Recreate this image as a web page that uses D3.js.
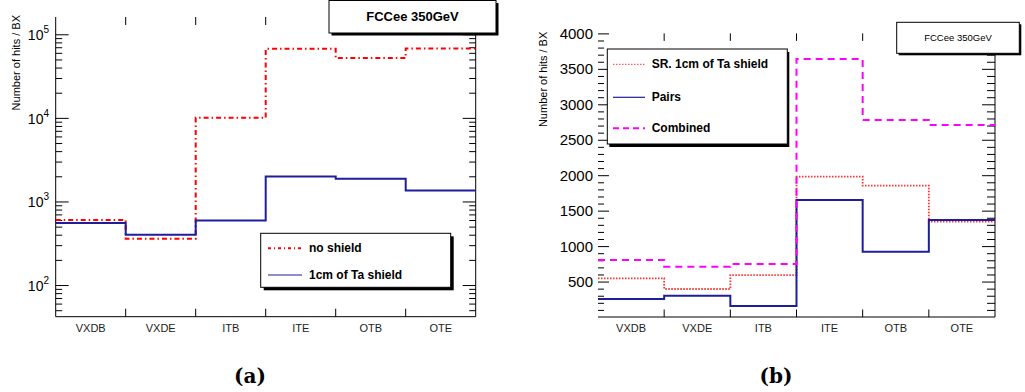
<!DOCTYPE html>
<html><head><meta charset="utf-8">
<script src="https://cdn.jsdelivr.net/npm/d3@7"></script>
<style>
body{margin:0;background:#fff;}
svg{display:block;font-family:"Liberation Sans",Arial,sans-serif;}
</style></head>
<body><svg id="c" width="1025" height="392"></svg>
<script>
// ---- data ----
const categories = ["VXDB","VXDE","ITB","ITE","OTB","OTE"];
// panel (a)
const noShield = [600, 358, 10000, 67000, 52000, 67500];
const taShield = [552, 400, 593, 1990, 1870, 1350];
const logTicksA = [100, 1000, 10000, 100000];
const legendA = ["no shield", "1cm of Ta shield"];
// panel (b)
const srTa = [546, 395, 592, 1979, 1852, 1344];
const pairs = [254, 300, 155, 1650, 921, 1368];
const combined = [804, 710, 748, 3639, 2779, 2708];
const linTicksB = [500, 1000, 1500, 2000, 2500, 3000, 3500, 4000];
const legendB = ["SR. 1cm of Ta shield", "Pairs", "Combined"];
const boxText = "FCCee 350GeV";
const yTitle = "Number of hits / BX";

const svg = d3.select("#c");

function stepPoints(x, vals){
  const pts = [];
  categories.forEach((c,i)=>{
    pts.push([x(c), vals[i]]);
    pts.push([x(c)+x.bandwidth(), vals[i]]);
  });
  return pts;
}
function drawStep(g, x, y, vals, style){
  const line = d3.line().x(d=>d[0]).y(d=>y(d[1]));
  g.append("path").attr("d", line(stepPoints(x, vals)))
    .attr("fill","none").attr("stroke",style.color)
    .attr("stroke-width",style.width)
    .attr("stroke-dasharray",style.dash||null);
}
function frameTicks(g, x, yTop, yBot, len){
  categories.slice(1).forEach(c=>{
    const xx = x(c);
    g.append("line").attr("x1",xx).attr("x2",xx).attr("y1",yBot).attr("y2",yBot-len)
      .attr("stroke","#000").attr("stroke-width",1);
    g.append("line").attr("x1",xx).attr("x2",xx).attr("y1",yTop).attr("y2",yTop+len)
      .attr("stroke","#000").attr("stroke-width",1);
  });
}
function textBox(g, x0, y0, w, h, sh, txt, fs, fw){
  g.append("rect").attr("x",x0+sh).attr("y",y0+sh).attr("width",w).attr("height",h).attr("fill","#000");
  g.append("rect").attr("x",x0).attr("y",y0).attr("width",w).attr("height",h)
    .attr("fill","#fff").attr("stroke","#000").attr("stroke-width",1);
  g.append("text").attr("x",x0+w/2).attr("y",y0+h/2).attr("text-anchor","middle")
    .attr("dominant-baseline","central").attr("font-size",fs).attr("font-weight",fw).text(txt);
}

// ================= Panel (a) =================
(function(){
  const L=55.7, R=475.7, T=17, B=316.7;
  const g = svg.append("g");
  const x = d3.scaleBand().domain(categories).range([L,R]).padding(0);
  const y = d3.scaleLog().domain([41.8, 161000]).range([B,T]);

  // axes lines
  g.append("line").attr("x1",L).attr("x2",L).attr("y1",T).attr("y2",B).attr("stroke","#000");
  g.append("line").attr("x1",R).attr("x2",R).attr("y1",T).attr("y2",B).attr("stroke","#000");
  g.append("line").attr("x1",L).attr("x2",R).attr("y1",B).attr("y2",B).attr("stroke","#000");

  // log ticks (major + minor) on left and right
  const minor = [];
  [10,100,1000,10000,100000].forEach(d=>{for(let k=2;k<=9;k++){const v=d*k; if(v>=41.8&&v<=161000) minor.push(v);}});
  const left = d3.axisRight(y).tickValues(logTicksA).tickSize(13).tickFormat("");
  const leftMin = d3.axisRight(y).tickValues(minor).tickSize(6.5).tickFormat("");
  const right = d3.axisLeft(y).tickValues(logTicksA).tickSize(13).tickFormat("");
  const rightMin = d3.axisLeft(y).tickValues(minor).tickSize(6.5).tickFormat("");
  [[left,L],[leftMin,L],[right,R],[rightMin,R]].forEach(([ax,xx])=>{
    const a = g.append("g").attr("transform",`translate(${xx},0)`).call(ax);
    a.select(".domain").remove();
    a.selectAll("line").attr("stroke","#000");
  });
  // tick labels 10^n
  logTicksA.forEach(v=>{
    const t = g.append("text").attr("x",49).attr("y",y(v)+6).attr("text-anchor","end").attr("font-size",14);
    t.append("tspan").text("10");
    t.append("tspan").attr("font-size",10).attr("dy",-7).text(String(Math.round(Math.log10(v))));
  });
  frameTicks(g, x, T, B, 8);

  // x labels
  categories.forEach(c=>{
    g.append("text").attr("x",x(c)+x.bandwidth()/2).attr("y",328).attr("text-anchor","middle")
      .attr("dominant-baseline","central").attr("font-size",11).attr("fill","#222").text(c);
  });
  // y title
  g.append("text").attr("transform","translate(15.7,15) rotate(-90)").attr("text-anchor","end")
    .attr("dominant-baseline","central").attr("font-size",11).text(yTitle);

  drawStep(g, x, y, noShield, {color:"#ff0000", width:2, dash:"5,3,1.5,3"});
  drawStep(g, x, y, taShield, {color:"#1e1e9c", width:2});

  // legend
  const lx=260.7, ly=233.3, lw=190, lh=54;
  g.append("rect").attr("x",lx+3).attr("y",ly+3).attr("width",lw).attr("height",lh).attr("fill","#000");
  g.append("rect").attr("x",lx).attr("y",ly).attr("width",lw).attr("height",lh).attr("fill","#fff").attr("stroke","#000");
  const ls = [{color:"#ff0000",width:2,dash:"3,3,1,3"},{color:"#1e1e9c",width:1.2}];
  const lys = [248.3, 275];
  legendA.forEach((t,i)=>{
    g.append("line").attr("x1",268).attr("x2",302).attr("y1",lys[i]).attr("y2",lys[i])
      .attr("stroke",ls[i].color).attr("stroke-width",ls[i].width).attr("stroke-dasharray",ls[i].dash||null);
    g.append("text").attr("x",309).attr("y",lys[i]).attr("dominant-baseline","central")
      .attr("font-size",12).attr("font-weight","bold").text(t);
  });
  textBox(g, 329, 0.5, 167, 32.5, 2.5, boxText, 13, "bold");

  svg.append("text").attr("x",250).attr("y",383).attr("text-anchor","middle")
    .attr("font-family","'DejaVu Serif',serif").attr("font-weight","bold").attr("font-size",20).text("(a)");
})();

// ================= Panel (b) =================
(function(){
  const L=598, R=995, T=33.4, B=317;
  const g = svg.append("g");
  const x = d3.scaleBand().domain(categories).range([L,R]).padding(0);
  const y = d3.scaleLinear().domain([0, 4000]).range([B,T]);

  g.append("line").attr("x1",R).attr("x2",R).attr("y1",T).attr("y2",B).attr("stroke","#000");
  g.append("line").attr("x1",L).attr("x2",R).attr("y1",B).attr("y2",B).attr("stroke","#000");

  const minor = d3.range(100, 4000, 100).filter(v=>v%500!==0);
  const axes = [
    [d3.axisRight(y).tickValues(linTicksB).tickSize(11), L],
    [d3.axisRight(y).tickValues(minor).tickSize(6), L],
    [d3.axisLeft(y).tickValues(linTicksB).tickSize(13), R],
    [d3.axisLeft(y).tickValues(minor).tickSize(8), R]
  ];
  axes.forEach(([ax,xx])=>{
    const a = g.append("g").attr("transform",`translate(${xx},0)`).call(ax.tickFormat(""));
    a.select(".domain").remove();
    a.selectAll("line").attr("stroke","#000");
  });
  linTicksB.forEach(v=>{
    g.append("text").attr("x",593).attr("y",y(v)).attr("text-anchor","end")
      .attr("dominant-baseline","central").attr("font-size",15).text(v);
  });
  frameTicks(g, x, T, B, 7.5);

  categories.forEach(c=>{
    g.append("text").attr("x",x(c)+x.bandwidth()/2).attr("y",327.5).attr("text-anchor","middle")
      .attr("dominant-baseline","central").attr("font-size",11).attr("fill","#222").text(c);
  });
  g.append("text").attr("transform","translate(543.3,31.7) rotate(-90)").attr("text-anchor","end")
    .attr("dominant-baseline","central").attr("font-size",11).text(yTitle);

  drawStep(g, x, y, srTa, {color:"#ff3030", width:1.8, dash:"1.5,1.5"});
  drawStep(g, x, y, pairs, {color:"#1e1e9c", width:2});
  drawStep(g, x, y, combined, {color:"#ff00ff", width:2, dash:"7,5"});

  // legend
  const lx=607.3, ly=49, lw=180, lh=95;
  g.append("rect").attr("x",lx+2).attr("y",ly+3).attr("width",lw).attr("height",lh).attr("fill","#000");
  g.append("rect").attr("x",lx).attr("y",ly).attr("width",lw).attr("height",lh).attr("fill","#fff").attr("stroke","#000");
  const ls = [{color:"#ff3030",width:1,dash:"1.5,1.5"},{color:"#1e1e9c",width:1.2},{color:"#ff00ff",width:2,dash:"6,4"}];
  const lys = [64.3, 97.3, 128.3];
  legendB.forEach((t,i)=>{
    g.append("line").attr("x1",613).attr("x2",645).attr("y1",lys[i]).attr("y2",lys[i])
      .attr("stroke",ls[i].color).attr("stroke-width",ls[i].width).attr("stroke-dasharray",ls[i].dash||null);
    g.append("text").attr("x",651.7).attr("y",lys[i]).attr("dominant-baseline","central")
      .attr("font-size",12).attr("font-weight","bold").text(t);
  });
  textBox(g, 896.7, 22.3, 122.6, 31, 2, boxText, 9.5, "normal");

  svg.append("text").attr("x",776).attr("y",383).attr("text-anchor","middle")
    .attr("font-family","'DejaVu Serif',serif").attr("font-weight","bold").attr("font-size",20).text("(b)");
})();
</script></body></html>
